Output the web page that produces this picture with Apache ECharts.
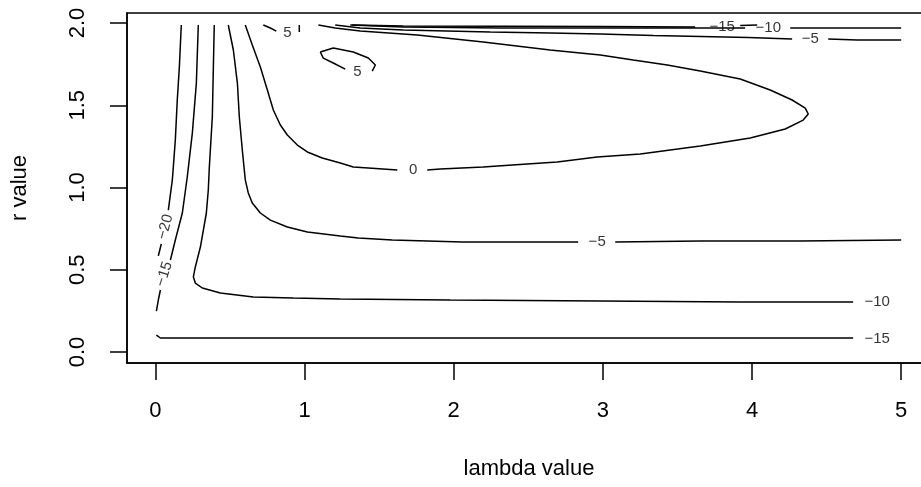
<!DOCTYPE html>
<html><head><meta charset="utf-8">
<script src="https://cdn.jsdelivr.net/npm/echarts@6/dist/echarts.min.js"></script>
<style>html,body{margin:0;padding:0;background:#fff;overflow:hidden}#c{width:940px;height:487px}</style>
</head><body><div id="c"></div>
<script>
// ---- axis ticks ----
const lambdaTicks = [0, 1, 2, 3, 4, 5];
const rTicks = [0, 0.5, 1.0, 1.5, 2.0];

// ---- contour polylines: [lambda, r] ----
// level -20
const c_m20_a = [[0.174,1.988],[0.161,1.733],[0.147,1.532],[0.134,1.289],[0.114,1.046],[0.087,0.863]];
const c_m20_b = [[0.040,0.657],[0.020,0.584]];
// level -15
const c_m15_left_a = [[0.288,1.988],[0.275,1.635],[0.248,1.331],[0.214,1.064],[0.181,0.845],[0.134,0.681],[0.101,0.559]];
const c_m15_left_b = [[0.034,0.377],[0.020,0.316],[0.007,0.249]];
const c_m15_bottom = [[0.007,0.103],[0.034,0.085],[4.678,0.085]];
const c_m15_top_a = [[1.320,1.988],[1.662,1.982],[2.983,1.979],[3.619,1.976]];
const c_m15_top_b = [[3.921,1.985],[4.035,1.988]];
// level -10
const c_m10_left = [[0.395,1.988],[0.389,1.733],[0.382,1.429],[0.362,1.125],[0.355,0.985],[0.342,0.845],[0.302,0.638],
  [0.268,0.517],[0.255,0.456],[0.268,0.419],[0.315,0.389],[0.436,0.359],[0.657,0.334],[0.925,0.328],[1.240,0.322],
  [1.977,0.316],[2.983,0.310],[3.921,0.304],[4.678,0.304]];
const c_m10_top_a = [[1.307,1.988],[1.662,1.976],[2.312,1.970],[3.954,1.970]];
const c_m10_top_b = [[4.256,1.970],[5.0,1.970]];
// level -5
const c_m5_left_a = [[0.489,1.988],[0.523,1.836],[0.550,1.635],[0.563,1.429],[0.583,1.228],[0.603,1.046],[0.623,0.967],
  [0.650,0.906],[0.704,0.845],[0.771,0.802],[0.885,0.760],[1.019,0.729],[1.240,0.705],[1.361,0.693],[1.588,0.681],
  [2.058,0.669],[2.835,0.669]];
const c_m5_left_b = [[3.083,0.669],[3.653,0.675],[4.323,0.675],[5.0,0.681]];
const c_m5_top_a = [[1.206,1.988],[1.374,1.970],[1.662,1.957],[2.245,1.945],[2.647,1.939],[2.983,1.933],[3.338,1.924],
  [3.975,1.912],[4.269,1.903]];
const c_m5_top_b = [[4.511,1.903],[4.705,1.897],[5.0,1.897]];
// level 0
const c_0_a = [[0.603,1.988],[0.650,1.866],[0.704,1.733],[0.751,1.593],[0.791,1.471],[0.838,1.380],[0.885,1.319],
  [0.952,1.258],[1.019,1.216],[1.119,1.179],[1.240,1.149],[1.327,1.125],[1.428,1.119],[1.622,1.106]];
const c_0_b = [[1.823,1.106],[1.910,1.112],[2.198,1.125],[2.393,1.137],[2.694,1.155],[2.962,1.185],[3.251,1.204],
  [3.653,1.252],[3.988,1.301],[4.223,1.356],[4.343,1.410],[4.377,1.447],[4.357,1.483],[4.269,1.532],[4.122,1.593],
  [3.921,1.660],[3.653,1.708],[3.432,1.745],[3.204,1.775],[2.983,1.805],[2.647,1.836],[2.198,1.884],[1.756,1.927],
  [1.374,1.951],[1.206,1.970],[1.093,1.988]];
// level 5
const c_5_top_a = [[0.724,1.988],[0.771,1.970],[0.811,1.951]];
const c_5_top_b = [[0.965,1.945],[0.965,1.988]];
const c_5_loop_a = [[1.106,1.824],[1.193,1.848],[1.327,1.824],[1.428,1.787],[1.475,1.745],[1.454,1.708]];
const c_5_loop_b = [[1.273,1.720],[1.193,1.757],[1.126,1.787],[1.106,1.824]];

// ---- contour labels: [lambda, r, text] ----
const contourLabels = [
  [0.067,0.760,'\u221220'],
  [0.060,0.474,'\u221215'],
  [4.839,0.079,'\u221215'],
  [4.839,0.304,'\u221210'],
  [2.962,0.669,'\u22125'],
  [1.729,1.106,'0'],
  [0.885,1.939,'5'],
  [1.354,1.702,'5'],
  [3.800,1.976,'\u221215'],
  [4.109,1.970,'\u221210'],
  [4.390,1.903,'\u22125']
];
const labelRotation = [75, 72, 0, 0, 0, 0, 0, 0, 0, 0, 0];

const segments = [c_m20_a, c_m20_b, c_m15_left_a, c_m15_left_b, c_m15_bottom, c_m15_top_a, c_m15_top_b,
  c_m10_left, c_m10_top_a, c_m10_top_b, c_m5_left_a, c_m5_left_b, c_m5_top_a, c_m5_top_b,
  c_0_a, c_0_b, c_5_top_a, c_5_top_b, c_5_loop_a, c_5_loop_b];

const FONT = '"Liberation Sans", Arial, sans-serif';
const chart = echarts.init(document.getElementById('c'), null, {renderer: 'canvas'});

const series = segments.map(seg => ({
  type: 'line', data: seg, showSymbol: false, symbol: 'none', silent: true, animation: false,
  lineStyle: {color: '#000', width: 1.5}, z: 2
}));
series.push({
  type: 'scatter', symbolSize: 0, silent: true, animation: false, z: 3,
  data: contourLabels.map((d, i) => ({
    value: [d[0], d[1]], name: d[2],
    label: {rotate: labelRotation[i]}
  })),
  label: {show: true, position: 'inside', formatter: p => p.name, fontSize: 15, color: '#000', fontFamily: FONT}
});

chart.setOption({
  animation: false,
  backgroundColor: '#fff',
  grid: {left: 127, top: 13, width: 804, height: 350, show: true, borderColor: '#000', borderWidth: 1.5, containLabel: false},
  xAxis: {
    type: 'value', min: -0.19, max: 5.2,
    splitLine: {show: false},
    axisLine: {show: true, onZero: false, lineStyle: {color: '#000', width: 1.5}},
    axisTick: {show: true, customValues: lambdaTicks, length: 17, lineStyle: {color: '#000', width: 1.5}},
    axisLabel: {customValues: lambdaTicks, margin: 37, fontSize: 22, color: '#000', fontFamily: FONT,
      formatter: v => String(v)},
    name: 'lambda value', nameLocation: 'middle', nameGap: 95,
    nameTextStyle: {fontSize: 22, color: '#000', fontFamily: FONT}
  },
  yAxis: {
    type: 'value', min: -0.067, max: 2.061,
    splitLine: {show: false},
    axisLine: {show: true, onZero: false, lineStyle: {color: '#000', width: 1.5}},
    axisTick: {show: true, customValues: rTicks, length: 17, lineStyle: {color: '#000', width: 1.5}},
    axisLabel: {customValues: rTicks, margin: 38, rotate: 90, fontSize: 22, color: '#000', fontFamily: FONT,
      formatter: v => v.toFixed(1)},
    name: 'r value', nameLocation: 'middle', nameGap: 96, nameRotate: 90,
    nameTextStyle: {fontSize: 22, color: '#000', fontFamily: FONT}
  },
  series: series
});
</script>
</body></html>
